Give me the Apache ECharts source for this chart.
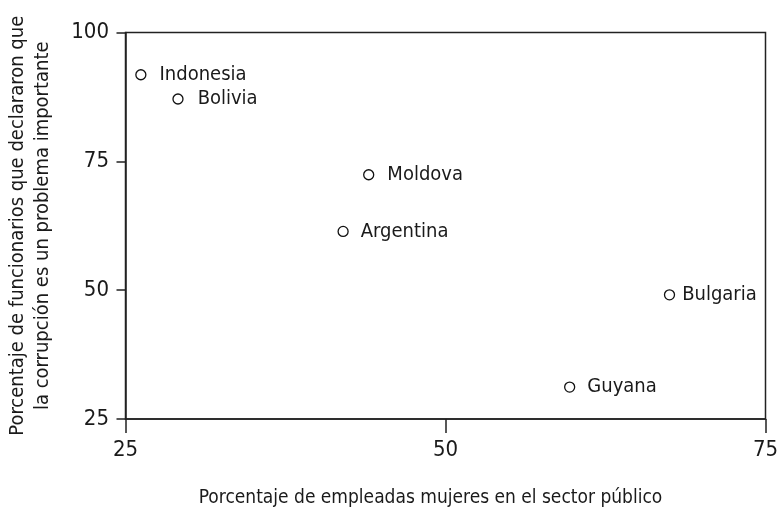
<!DOCTYPE html>
<html>
<head>
<meta charset="utf-8">
<script src="https://cdn.jsdelivr.net/npm/echarts@6/dist/echarts.min.js"></script>
<style>
  html, body { margin: 0; padding: 0; background: #fff; }
  #main { width: 780px; height: 510px; }
</style>
</head>
<body>
<div id="main"></div>
<script>
  // datos
  var countries = ['Indonesia', 'Bolivia', 'Moldova', 'Argentina', 'Bulgaria', 'Guyana'];
  var womenShare = [26.2, 29.1, 44.0, 42.0, 67.5, 59.7];      // eje x
  var corruptionShare = [91.8, 87.1, 72.4, 61.4, 49.1, 31.2]; // eje y
  var xTicks = [25, 50, 75];
  var yTicks = [25, 50, 75, 100];

  // separación de cada etiqueta respecto al círculo (estilo)
  var labelGap = [13, 14, 13, 12, 7, 12];

  var fontFam = "'Liberation Sans Narrow', 'DejaVu Sans Condensed', 'Liberation Sans', sans-serif";
  var ink = '#1a1a1a';

  var points = countries.map(function (name, i) {
    return {
      name: name,
      value: [womenShare[i], corruptionShare[i]],
      label: { distance: labelGap[i] }
    };
  });

  var myChart = echarts.init(document.getElementById('main'));
  var option = {
    animation: false,
    textStyle: { fontFamily: fontFam },
    grid: {
      left: 125.5,
      right: 14.5,
      top: 32.5,
      bottom: 91,
      outerBoundsMode: 'none',
      containLabel: false,
      show: true,
      borderColor: '#222',
      borderWidth: 1.5
    },
    xAxis: {
      type: 'value',
      min: xTicks[0],
      max: xTicks[xTicks.length - 1],
      interval: 25,
      name: 'Porcentaje de empleadas mujeres en el sector público',
      nameLocation: 'middle',
      nameGap: 70,
      nameTextStyle: { color: ink, fontSize: 19, padding: [0, 30, 0, 0], fontFamily: fontFam },
      axisLine: { show: true, lineStyle: { color: '#222', width: 1.5 } },
      axisTick: { show: true, length: 14, lineStyle: { color: '#222', width: 1.5 } },
      axisLabel: { color: ink, fontSize: 22, margin: 20, fontFamily: fontFam },
      splitLine: { show: false }
    },
    yAxis: {
      type: 'value',
      min: yTicks[0],
      max: yTicks[yTicks.length - 1],
      interval: 25,
      name: 'Porcentaje de funcionarios que declararon que\nla corrupción es un problema importante',
      nameLocation: 'middle',
      nameGap: 70,
      nameRotate: 90,
      nameTextStyle: { color: ink, fontSize: 20, lineHeight: 25, fontFamily: fontFam },
      axisLine: { show: true, lineStyle: { color: '#222', width: 1.5 } },
      axisTick: { show: true, length: 9, lineStyle: { color: '#222', width: 1.5 } },
      axisLabel: { color: ink, fontSize: 22, margin: 16.5, fontFamily: fontFam },
      splitLine: { show: false }
    },
    series: [
      {
        type: 'scatter',
        data: points,
        symbol: 'circle',
        symbolSize: 10,
        itemStyle: { color: '#fff', borderColor: '#111', borderWidth: 1.3, opacity: 1 },
        label: {
          show: true,
          position: 'right',
          formatter: '{b}',
          color: ink,
          opacity: 1,
          textBorderWidth: 0,
          fontSize: 20,
          fontFamily: fontFam
        }
      }
    ]
  };
  myChart.setOption(option);
</script>
</body>
</html>
